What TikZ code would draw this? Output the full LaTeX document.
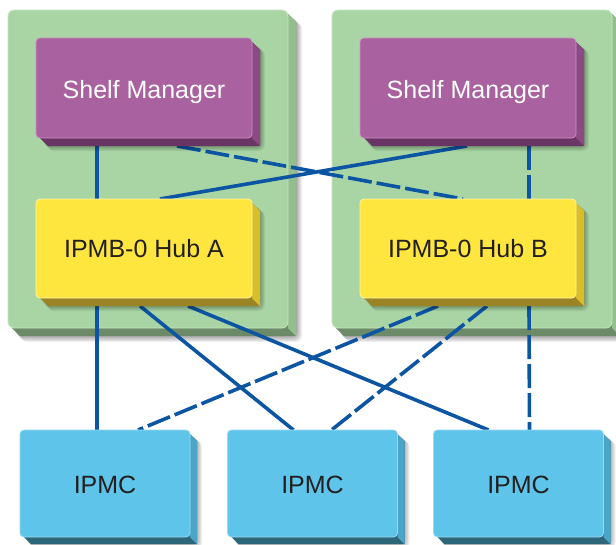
\documentclass[tikz,border=0pt]{standalone}
\usepackage{fontspec}
\setmainfont{Liberation Sans}
\usetikzlibrary{calc}
\pgfdeclarelayer{bg}\pgfdeclarelayer{lines}\pgfdeclarelayer{ext}
\pgfsetlayers{bg,lines,ext,main}
\definecolor{smFace}{HTML}{A9629F}
\definecolor{smEdge}{HTML}{C990C0}
\definecolor{smSide}{HTML}{8B4A84}
\definecolor{smBot}{HTML}{6A3464}
\definecolor{hubFace}{HTML}{FFE63E}
\definecolor{hubEdge}{HTML}{FFF5A8}
\definecolor{hubSide}{HTML}{D9BE2C}
\definecolor{hubBot}{HTML}{9A8425}
\definecolor{ipFace}{HTML}{5EC4EA}
\definecolor{ipEdge}{HTML}{9AD9F3}
\definecolor{ipSide}{HTML}{4AA5C8}
\definecolor{ipBot}{HTML}{2D6679}
\definecolor{pnFace}{HTML}{A8D5A3}
\definecolor{pnEdge}{HTML}{C8E6C3}
\definecolor{pnSide}{HTML}{93BE8E}
\definecolor{pnBot}{HTML}{6C8A68}
\definecolor{busBlue}{HTML}{0B55A3}
\definecolor{txt}{HTML}{231F20}
\tikzset{
 face/.style={rectangle, rounded corners=4pt, inner sep=0pt, outer sep=0pt, line width=0.8pt, font=\fontsize{25}{28}\selectfont, text depth=0pt},
 smbox/.style={face, fill=smFace, draw=smEdge, text=white, minimum width=216pt, minimum height=100pt, text height=20.9pt},
 hubbox/.style={face, fill=hubFace, draw=hubEdge, text=txt, minimum width=216pt, minimum height=99pt, text height=18.9pt},
 ipmcbox/.style={face, fill=ipFace, draw=ipEdge, text=txt, minimum width=170pt, minimum height=107pt, text height=20.9pt},
 bus/.style={draw=busBlue, line width=3.6pt},
 busdash/.style={bus, dash pattern=on 24pt off 5pt},
 shade/.style={fill=black, opacity=0.06, rounded corners=6pt},
}
\newcommand\extr[4]{%
 \begin{pgfonlayer}{ext}
 \foreach \s in {1,...,6}{\fill[shade] ([shift={(#4+\s-2,#4+\s-2)}]#1.north west) rectangle ([shift={(#4+\s-1,#4+\s-1)}]#1.south east);}
 \fill[#3] ([shift={(0,4)}]#1.north east) -- ([shift={(#4,#4+4)}]#1.north east) -- ([shift={(#4,#4)}]#1.south east) -- ([shift={(#4+4,#4)}]#1.south west) -- ([shift={(4,0)}]#1.south west) -- cycle;
 \fill[#2] ([shift={(0,4)}]#1.north east) -- ([shift={(#4,#4+4)}]#1.north east) -- ([shift={(#4,#4)}]#1.south east) -- (#1.south east) -- cycle;
 \end{pgfonlayer}}
\newcommand\panel[4]{% x1 y1 x2 y2
 \foreach \s in {1,...,7}{\fill[shade] (#1+6+\s,#2+6+\s) rectangle (#3+7+\s,#4+7+\s);}
 \fill[pnBot] (#3,#2+4) -- (#3+8,#2+12) -- (#3+8,#4+8) -- (#1+12,#4+8) -- (#1+4,#4) -- cycle;
 \fill[pnSide] (#3,#2+4) -- (#3+8,#2+12) -- (#3+8,#4+8) -- (#3,#4) -- cycle;
 \filldraw[fill=pnFace, draw=pnEdge, line width=0.8pt, rounded corners=6pt] (#1,#2) rectangle (#3,#4);}
\begin{document}
\begin{tikzpicture}[x=1pt,y=-1pt]
\useasboundingbox (0,0) rectangle (616,544);
% panels
\begin{pgfonlayer}{bg}
\fill[white] (0,0) rectangle (616,544);
\panel{8}{10}{288}{328}
\panel{332}{10}{612}{328}
\end{pgfonlayer}
% boxes
\node[smbox] (smA) at (144,88) {Shelf Manager};
\node[smbox] (smB) at (468,88) {Shelf Manager};
\node[hubbox] (hubA) at (144,248.5) {IPMB-0 Hub A};
\node[hubbox] (hubB) at (468,248.5) {IPMB-0 Hub B};
\node[ipmcbox] (ip1) at (105,483.5) {IPMC};
\node[ipmcbox] (ip2) at (312.5,483.5) {IPMC};
\node[ipmcbox] (ip3) at (518.5,483.5) {IPMC};
\extr{smA}{smSide}{smBot}{8}
\extr{smB}{smSide}{smBot}{8}
\extr{hubA}{hubSide}{hubBot}{8}
\extr{hubB}{hubSide}{hubBot}{8}
\extr{ip1}{ipSide}{ipBot}{7}
\extr{ip2}{ipSide}{ipBot}{7}
\extr{ip3}{ipSide}{ipBot}{7}
% connectors
\begin{pgfonlayer}{lines}
\draw[bus] ([xshift=-47pt,yshift=-8pt]smA.south) -- ([xshift=-47pt]hubA.north);
\draw[busdash] ([xshift=33pt,yshift=-8pt]smA.south) -- ([xshift=-5pt]hubB.north);
\draw[bus] ([xshift=-1pt,yshift=-8pt]smB.south) -- ([xshift=16pt]hubA.north);
\draw[busdash] ([xshift=61pt,yshift=-8pt]smB.south) -- ([xshift=61pt]hubB.north);
\draw[bus] ([xshift=-47pt,yshift=-8pt]hubA.south) -- ([xshift=-8pt]ip1.north);
\draw[bus] ([xshift=-4pt,yshift=-8pt]hubA.south) -- ([xshift=-19pt]ip2.north);
\draw[bus] ([xshift=44pt,yshift=-8pt]hubA.south) -- ([xshift=-30pt]ip3.north);
\draw[busdash] ([xshift=-30pt,yshift=-8pt]hubB.south) -- ([xshift=33pt]ip1.north);
\draw[busdash] ([xshift=19pt,yshift=-8pt]hubB.south) -- ([xshift=19pt]ip2.north);
\draw[busdash] ([xshift=61pt,yshift=-8pt]hubB.south) -- ([xshift=11pt]ip3.north);
\end{pgfonlayer}
\end{tikzpicture}
\end{document}
